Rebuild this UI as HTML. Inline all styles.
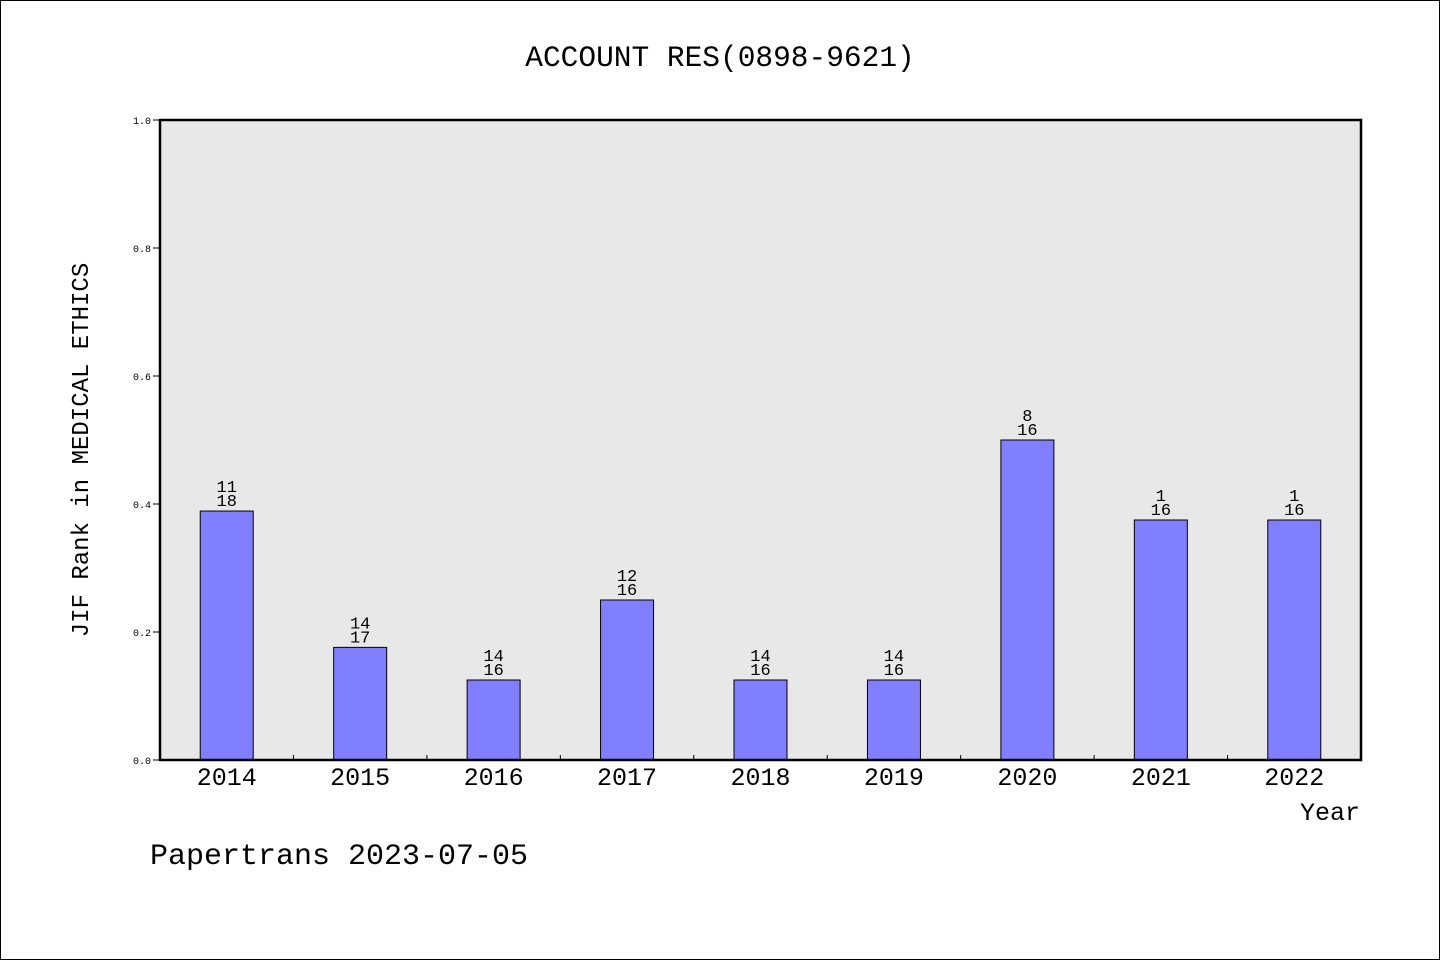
<!DOCTYPE html>
<html><head><meta charset="utf-8">
<style>
html,body{margin:0;padding:0;background:#fff;}
svg{display:block;font-family:"Liberation Mono","DejaVu Sans Mono",monospace;}
</style></head>
<body>
<svg id="chart" width="1440" height="960" viewBox="0 0 1440 960">
<rect x="0.5" y="0.5" width="1439" height="959" fill="#fff" stroke="#000"/>
<text x="720" y="66" text-anchor="middle" font-size="29.5">ACCOUNT RES(0898-9621)</text>
<rect x="160" y="120" width="1201" height="640" fill="#e8e8e8"/>
<g id="yaxis"></g>
<g id="bars"></g>
<g id="xaxis"></g>
<rect x="160" y="120" width="1201" height="640" fill="none" stroke="#000" stroke-width="2.5"/>
<text x="88" y="450" transform="rotate(-90 88 450)" text-anchor="middle" font-size="24">JIF Rank in MEDICAL ETHICS</text>
<text x="1360" y="820" text-anchor="end" font-size="25">Year</text>
<text x="150" y="864" font-size="30">Papertrans 2023-07-05</text>
</svg>
<script>
const years = ["2014","2015","2016","2017","2018","2019","2020","2021","2022"];
const values = [0.389,0.176,0.125,0.25,0.125,0.125,0.5,0.375,0.375];
const ranks = ["11","14","14","12","14","14","8","1","1"];
const totals = ["18","17","16","16","16","16","16","16","16"];
const yTicks = [0,0.2,0.4,0.6,0.8,1.0];
const yTickLabels = ["0.0","0.2","0.4","0.6","0.8","1.0"];

const NS="http://www.w3.org/2000/svg";
const L=160,R=1361,T=120,B=760;
const slot=(R-L)/years.length;
const x=i=>L+slot*(i+0.5);
const y=v=>B-(B-T)*v;
function mk(t,a,p){const e=document.createElementNS(NS,t);for(const k in a)e.setAttribute(k,a[k]);p.appendChild(e);return e;}
const ya=document.getElementById('yaxis');
yTicks.forEach((v,i)=>{
  const l=mk('line',{x1:L-7,x2:L,y1:y(v),y2:y(v),stroke:'#000'},ya);
  
  
  const t=mk('text',{x:L-9,y:y(v)+4,'text-anchor':'end','font-size':10},ya);
  t.textContent=yTickLabels[i];
  
  
});
const bg=document.getElementById('bars');
const bw=53;
values.forEach((v,i)=>{
  const r=mk('rect',{x:x(i)-bw/2,y:y(v),width:bw,height:B-y(v),fill:'#8080ff',stroke:'#000','stroke-width':1},bg);
  
  
  const t1=mk('text',{x:x(i),y:y(v)-19,'text-anchor':'middle','font-size':17},bg);
  t1.textContent=ranks[i];
  
  
  const t2=mk('text',{x:x(i),y:y(v)-5,'text-anchor':'middle','font-size':17},bg);
  t2.textContent=totals[i];
  
  
});
const xa=document.getElementById('xaxis');
years.forEach((yr,i)=>{
  if(i>0){
    const l=mk('line',{x1:L+slot*i,x2:L+slot*i,y1:B-5,y2:B,stroke:'#000'},xa);
    
    
  }
  const t=mk('text',{x:x(i),y:B+25,'text-anchor':'middle','font-size':25},xa);
  t.textContent=yr;
  
  
});
</script>
</body></html>
